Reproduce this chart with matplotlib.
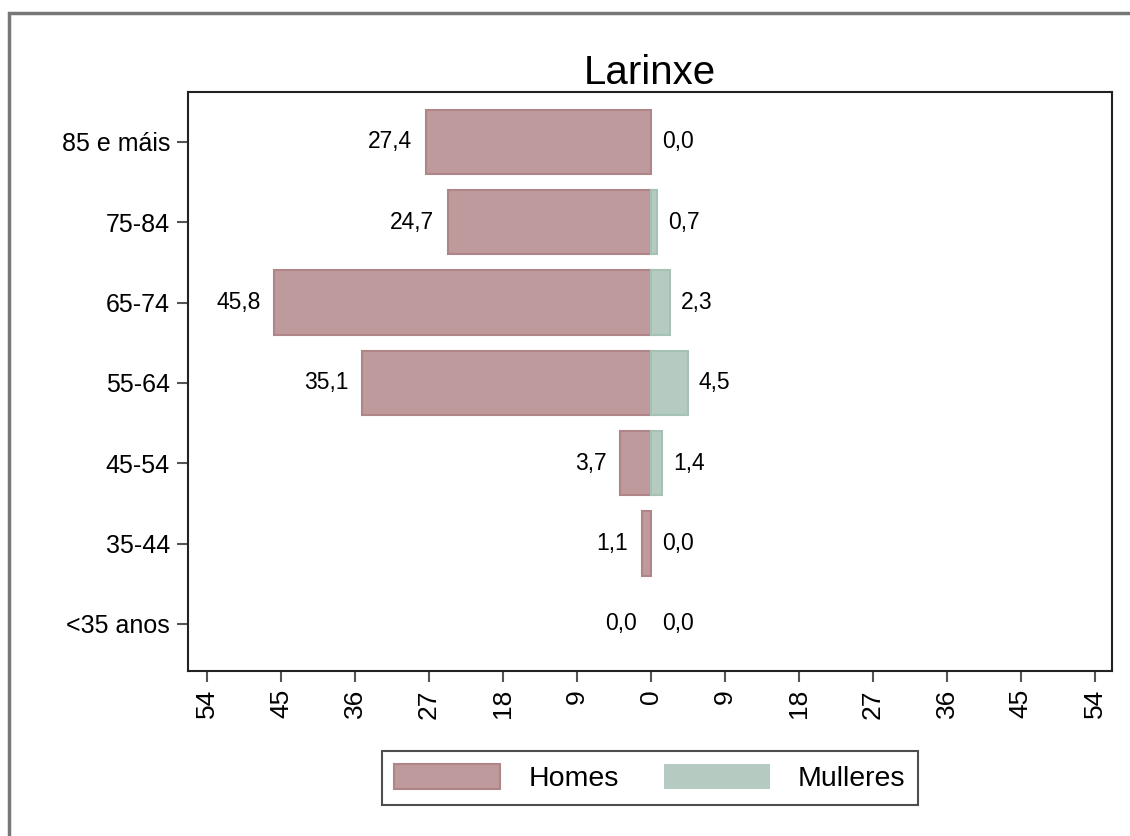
import matplotlib.pyplot as plt
from matplotlib.patches import Rectangle
import numpy as np

plt.rcParams['font.family'] = ['Liberation Sans', 'DejaVu Sans']

groups = ['85 e máis', '75-84', '65-74', '55-64', '45-54', '35-44', '<35 anos']
homes = [27.4, 24.7, 45.8, 35.1, 3.7, 1.1, 0.0]
mulleres = [0.0, 0.7, 2.3, 4.5, 1.4, 0.0, 0.0]
xticks = [-54, -45, -36, -27, -18, -9, 0, 9, 18, 27, 36, 45, 54]

col_h = '#bf9a9c'
col_m = '#b5cbc1'
edge_h = '#b08588'
edge_m = '#a6c2b5'

fig = plt.figure(figsize=(11.3, 8.36), dpi=100)
ax = fig.add_axes([188 / 1130, 1 - 671 / 836, (1112 - 188) / 1130, (671 - 92) / 836])

# outer gray frame (cut off at the right and bottom like the screenshot)
fig.patches.append(Rectangle((9 / 1130, -0.1), 1.2, 1 - 13 / 836 + 0.1,
                             transform=fig.transFigure, fill=False,
                             edgecolor='#777777', linewidth=2.5))

y = np.arange(len(groups))
ax.barh(y, [-v for v in homes], height=0.8, color=col_h, edgecolor=edge_h,
        linewidth=[1.5 if v > 0 else 0 for v in homes], label='Homes')
ax.barh(y, mulleres, height=0.8, color=col_m, edgecolor=edge_m,
        linewidth=[1.5 if v > 0 else 0 for v in mulleres], label='Mulleres')

for yi, h, m in zip(y, homes, mulleres):
    ax.annotate(f'{h:.1f}'.replace('.', ','), (-h, yi), xytext=(-10, 0), textcoords='offset points',
                ha='right', va='center', fontsize=16.5)
    ax.annotate(f'{m:.1f}'.replace('.', ','), (m, yi), xytext=(8, 0), textcoords='offset points',
                ha='left', va='center', fontsize=16.5)

ax.set_xlim(-56.3, 56.1)
ax.set_ylim(6.585, -0.62)
ax.set_yticks(y)
ax.set_yticklabels(groups, fontsize=18)
ax.set_xticks(xticks)
ax.set_xticklabels([str(abs(t)) for t in xticks], rotation=90, fontsize=19)
ax.tick_params(axis='both', length=8, width=1.5, color='#555555', pad=5)
for s in ax.spines.values():
    s.set_linewidth(1.5)
    s.set_color('#222222')

ax.set_title('Larinxe', fontsize=29, pad=6)

leg = fig.legend(loc='center', bbox_to_anchor=(650 / 1130, 1 - 778 / 836), ncol=2, fontsize=20.5,
                 frameon=True, fancybox=False, edgecolor='#222222', handlelength=3.7, handleheight=1.0,
                 columnspacing=1.6, handletextpad=1.0, borderpad=0.45, borderaxespad=0)
leg.get_frame().set_linewidth(1.5)

fig.savefig('out.png', dpi=100)
